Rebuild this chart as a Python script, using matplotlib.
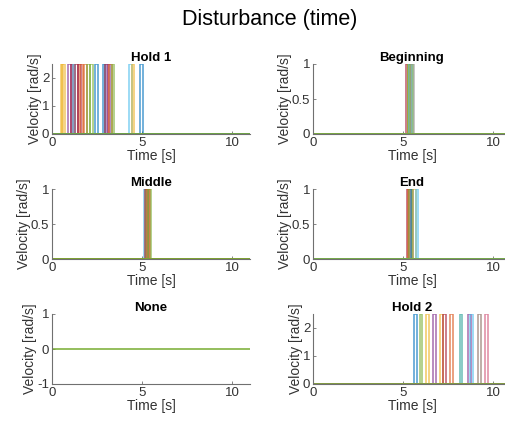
import numpy as np
import matplotlib
matplotlib.use('Agg')
from matplotlib import pyplot as plt

plt.rcParams['font.family'] = ['Liberation Sans', 'DejaVu Sans']

# MATLAB default line colours
BLUE = '#0072BD'
ORANGE = '#D95319'
YELLOW = '#EDB120'
PURPLE = '#7E2F8E'
GREEN = '#77AC30'
CYAN = '#4DBEEE'
RED = '#A2142F'

t_end = 11.0
pulse_width = 0.15

titles = ['Hold 1', 'Beginning', 'Middle', 'End', 'None', 'Hold 2']

# pulse start times [s] per condition
hold1_starts = [0.48, 0.56, 0.91, 1.04, 1.15, 1.28, 1.46, 1.56, 1.78, 1.96, 2.11,
                2.39, 2.81, 2.94, 3.07, 3.19, 3.31, 4.28, 4.43, 4.89]
hold1_colors = [YELLOW, YELLOW, PURPLE, RED, CYAN, RED, RED, ORANGE, ORANGE, GREEN, GREEN,
                BLUE, BLUE, RED, PURPLE, ORANGE, GREEN, CYAN, YELLOW, BLUE]
beginning_starts = [5.15, 5.25, 5.30, 5.35, 5.40, 5.45]
beginning_colors = [RED, YELLOW, GREEN, CYAN, GREEN, '#999999']
middle_starts = [5.09, 5.18, 5.24, 5.30, 5.36]
middle_colors = [CYAN, RED, '#8c7a2a', ORANGE, GREEN]
end_starts = [5.20, 5.30, 5.36, 5.42, 5.58, 5.70]
end_colors = [RED, ORANGE, GREEN, BLUE, YELLOW, CYAN]
none_starts = []
none_colors = []
hold2_starts = [5.62, 5.92, 6.28, 6.66, 7.08, 7.22, 7.60, 8.15, 8.60, 8.74, 9.16, 9.55]
hold2_colors = [BLUE, GREEN, YELLOW, PURPLE, YELLOW, RED, ORANGE, '#2aa198', PURPLE, CYAN,
                '#8c6d62', '#d1577a']

pulse_heights = [2.5, 1, 1, 1, 1, 2.5]
ylims = [(0, 2.5), (0, 1), (0, 1), (0, 1), (-1, 1), (0, 2.5)]
yticks = [[0, 1, 2], [0, 0.5, 1], [0, 0.5, 1], [0, 0.5, 1], [-1, 0, 1], [0, 1, 2]]
ytick_labels = [['0', '1', '2'], ['0', '0.5', '1'], ['0', '0.5', '1'], ['0', '0.5', '1'],
                ['-1', '0', '1'], ['0', '1', '2']]

all_starts = [hold1_starts, beginning_starts, middle_starts, end_starts, none_starts, hold2_starts]
all_colors = [hold1_colors, beginning_colors, middle_colors, end_colors, none_colors, hold2_colors]

W, H = 505, 421
fig = plt.figure(figsize=(W / 100, H / 100), dpi=100)

col_left = [52, 313]
ax_w = 198
row_bottom = [134, 259, 384]
ax_h = 70

for i in range(6):
    r, c = divmod(i, 2)
    ax = fig.add_axes([col_left[c] / W, 1 - row_bottom[r] / H, ax_w / W, ax_h / H])
    h = pulse_heights[i]
    for s, col in zip(all_starts[i], all_colors[i]):
        t = [0, s, s, s + pulse_width, s + pulse_width, t_end]
        v = [0, 0, h, h, 0, 0]
        ax.plot(t, v, color=col, lw=1.1, alpha=0.7, solid_joinstyle='miter')
    ax.plot([0, t_end], [0, 0], color=GREEN, lw=1.1)

    ax.set_xlim(0, t_end)
    ax.set_ylim(*ylims[i])
    ax.set_xticks([0, 5, 10])
    ax.set_yticks(yticks[i])
    ax.set_yticklabels(ytick_labels[i])
    for side in ['top', 'right']:
        ax.spines[side].set_visible(False)
    for side in ['left', 'bottom']:
        ax.spines[side].set_color('#707070')
        ax.spines[side].set_linewidth(0.8)
    ax.tick_params(direction='in', length=2.5, width=0.6, color='#707070',
                   labelsize=9.5, labelcolor='#333333', pad=2)
    ax.set_title(titles[i], fontsize=9.5, fontweight='bold', pad=2)
    ax.set_xlabel('Time [s]', fontsize=10, color='#333333', labelpad=0)
    ax.set_ylabel('Velocity [rad/s]', fontsize=10, color='#333333', labelpad=0)

fig.suptitle('Disturbance (time)', fontsize=15.5, x=270 / W, y=1 - 20 / H, va='center')
fig.savefig('out.png', dpi=100)
